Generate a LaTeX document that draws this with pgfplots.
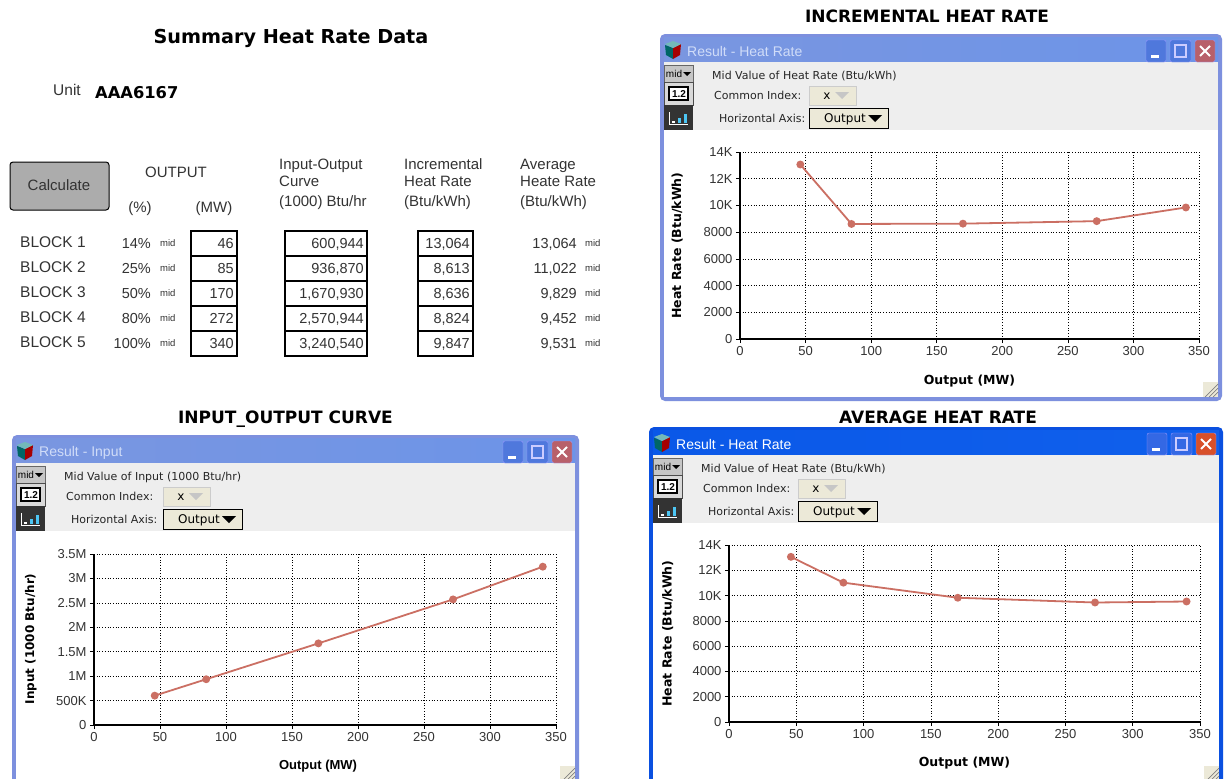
\documentclass[border=0pt]{standalone}
\usepackage{fontspec}
\setmainfont{Liberation Sans}
\newfontfamily\dv{DejaVu Sans}
\usepackage{pgfplots}
\usepackage{pgfplotstable}
\pgfplotsset{compat=1.18}

\definecolor{paneg}{HTML}{EEEEEE}
\definecolor{btnb}{HTML}{ECE9D8}
\definecolor{curve}{HTML}{CB6F63}
\definecolor{txt}{HTML}{333333}
% inactive window
\definecolor{offframe}{HTML}{7D90DE}
\definecolor{offA}{HTML}{7A96E0}
\definecolor{offB}{HTML}{6C94E8}
\definecolor{offtext}{HTML}{D0DCF8}
\definecolor{offbtn}{HTML}{4F78DC}
\definecolor{offclose}{HTML}{B8606A}
% active window
\definecolor{onframe}{HTML}{0A50E0}
\definecolor{onA}{HTML}{0A58E8}
\definecolor{onB}{HTML}{1060EC}
\definecolor{ontext}{HTML}{FFFFFF}
\definecolor{onbtn}{HTML}{3468E4}
\definecolor{onclose}{HTML}{D8502A}

\pgfplotstableread{
mw incr
46 13064
85 8613
170 8636
272 8824
340 9847
}\incrdata
\pgfplotstableread{
mw input
46 600944
85 936870
170 1670930
272 2570944
340 3240540
}\inputdata
\pgfplotstableread{
mw avg
46 13064
85 11022
170 9829
272 9452
340 9531
}\avgdata

\newcommand{\fs}[1]{\fontsize{#1}{#1}\selectfont}

% x, y, w, h, title, mid line, box offset, colour prefix, button shift
\newcommand{\resultwin}[9]{%
\begin{scope}[shift={(#1pt,-#2pt)},x=1pt,y=-1pt]
  \fill[#8frame,rounded corners=5pt] (0,0) rectangle (#3,#4);
  \shade[left color=#8A,right color=#8B] (4,3) rectangle (#3-4,28);
  \fill[white] (4,28) rectangle (#3-4,#4-4);
  \fill[paneg] (4,28) rectangle (#3-4,96);
  % logo
  \fill[teal!80!black] (5,11) -- (13,14) -- (13,25) -- (6,21) -- cycle;
  \fill[red!65!black] (13,14) -- (21,10) -- (20,21) -- (13,25) -- cycle;
  \fill[teal!55] (5,10) -- (13,7) -- (21,10) -- (13,14) -- cycle;
  \node[anchor=west,text=#8text,inner sep=0pt,font=\fs{14}] at (27,17.5) {#5};
  % window buttons
  \fill[#8btn,rounded corners=2pt,draw=white!60!blue] (#3-76+#9,6) rectangle (#3-56+#9,28);
  \fill[white] (#3-71+#9,21) rectangle (#3-63+#9,24);
  \fill[#8btn,rounded corners=2pt,draw=white!60!blue] (#3-52+#9,6) rectangle (#3-31+#9,28);
  \draw[white!80!blue,line width=1.2pt] (#3-47+#9,11) rectangle (#3-36+#9,23);
  \fill[#8close,rounded corners=2pt,draw=white!60!blue] (#3-27+#9,6) rectangle (#3-7+#9,28);
  \draw[white,line width=2pt] (#3-22+#9,12) -- (#3-12+#9,22) (#3-22+#9,22) -- (#3-12+#9,12);
  % side buttons
  \fill[gray!45,draw=black!60] (4,31) rectangle (33,48);
  \node[font=\fs{10},inner sep=0pt] at (14,40) {mid};
  \fill[black] (23,38) -- (31,38) -- (27,42) -- cycle;
  \fill[gray!30,draw=black!70,line width=1pt] (4,48) rectangle (33,71);
  \fill[white,draw=black,line width=1.2pt] (9,53) rectangle (28,66);
  \node[font=\bfseries\fs{10},inner sep=0pt] at (19,60) {1.2};
  \fill[black!80] (4,71) rectangle (33,96);
  \draw[white,line width=.8pt] (9,78) -- (9,90) -- (28,90);
  \fill[cyan!70] (24,80) rectangle (27,89);
  \fill[white] (12,87) rectangle (15,89);
  \fill[cyan!70] (18,84) rectangle (21,89);
  % control strip
  \node[anchor=west,font=\dv\fs{11},inner sep=0pt,text=black!85] at (52,42) {#6};
  \node[anchor=west,font=\dv\fs{11},inner sep=0pt,text=black!85] at (54,61) {Common Index:};
  \node[anchor=west,font=\dv\fs{11},inner sep=0pt,text=black!85] at (59,84) {Horizontal Axis:};
  \fill[btnb,draw=gray!40] (#7,52) rectangle (#7+47,71);
  \node[font=\dv\fs{12},inner sep=0pt] at (#7+18,62) {x};
  \fill[gray!45] (#7+26,58) -- (#7+40,58) -- (#7+33,65) -- cycle;
  \fill[btnb,draw=black,line width=1pt] (#7,74) rectangle (#7+79,94);
  \node[font=\dv\fs{12},inner sep=0pt] at (#7+36,85) {Output};
  \fill[black] (#7+59,81) -- (#7+73,81) -- (#7+66,88) -- cycle;
\end{scope}}

\newcommand{\grip}[2]{%
\begin{scope}[shift={(#1pt,-#2pt)},x=1pt,y=-1pt]
  \fill[btnb] (0,0) rectangle (15,15);
  \draw[gray,line width=.7pt] (15,2) -- (2,15) (15,6) -- (6,15) (15,10) -- (10,15);
\end{scope}}

\pgfplotsset{
  heat/.style={
    scale only axis, anchor=south west,
    axis x line=bottom, axis y line=left,
    axis line style={-,line width=1.5pt,black},
    tick style={black,line width=.7pt}, tick align=outside, major tick length=4pt,
    grid=major, grid style={black,line width=.7pt,dotted},
    xmin=0, xmax=350, ymin=0,
    xtick={0,50,...,350},
    scaled y ticks=false,
    /pgf/number format/assume math mode=true,
    /pgf/number format/1000 sep={},
    tick label style={font=\fs{13},text=txt},
    label style={font=\dv\bfseries\fs{12.5},text=black},
    clip=false,
  },
  heatline/.style={curve,line width=1.8pt,mark=*,mark size=3pt,mark options={fill=curve,draw=curve}},
}

\begin{document}
\begin{tikzpicture}
\clip (0,0) rectangle (1229pt,-779pt);
\fill[white] (0,0) rectangle (1229pt,-779pt);

\begin{scope}[x=1pt,y=-1pt,every node/.style={inner sep=0pt,text=txt}]
  \node[anchor=base,font=\dv\bfseries\fs{19.2},text=black] at (291,43) {Summary Heat Rate Data};
  \node[anchor=base west,font=\fs{15.5}] at (53,95) {Unit};
  \node[anchor=base west,font=\dv\bfseries\fs{16.3},text=black] at (95,98) {AAA6167};
  \node[anchor=base,font=\dv\bfseries\fs{17},text=black] at (927,23) {INCREMENTAL HEAT RATE};
  \node[anchor=base,font=\dv\bfseries\fs{17},text=black] at (285.5,423) {INPUT\_OUTPUT CURVE};
  \node[anchor=base,font=\dv\bfseries\fs{17},text=black] at (938,423) {AVERAGE HEAT RATE};

  \fill[gray!65,draw=black,line width=1pt,rounded corners=3pt] (10,162) rectangle (109,210);
  \node[anchor=base,font=\fs{15}] at (59,190) {Calculate};
  \node[anchor=base,font=\fs{15}] at (176,177) {OUTPUT};
  \node[anchor=base,font=\fs{15}] at (140,212) {(\%)};
  \node[anchor=base,font=\fs{15}] at (214,212) {(MW)};
  \foreach \t/\yy in {Input-Output/169,Curve/186,{(1000) Btu/hr}/206}
    \node[anchor=base west,font=\fs{15}] at (279,\yy) {\t};
  \foreach \t/\yy in {Incremental/169,Heat Rate/186,{(Btu/kWh)}/206}
    \node[anchor=base west,font=\fs{15}] at (404,\yy) {\t};
  \foreach \t/\yy in {Average/169,Heate Rate/186,{(Btu/kWh)}/206}
    \node[anchor=base west,font=\fs{15}] at (520,\yy) {\t};

  \foreach \yy/\b/\p/\mw/\io/\ih/\av in {
    243/1/14/46/{600,944}/{13,064}/{13,064},
    268/2/25/85/{936,870}/{8,613}/{11,022},
    293/3/50/170/{1,670,930}/{8,636}/{9,829},
    318/4/80/272/{2,570,944}/{8,824}/{9,452},
    343/5/100/340/{3,240,540}/{9,847}/{9,531}}{
    \draw[black,line width=1.2pt] (191,\yy-12) rectangle (237,\yy+13);
    \draw[black,line width=1.2pt] (285,\yy-12) rectangle (367,\yy+13);
    \draw[black,line width=1.2pt] (418,\yy-12) rectangle (473,\yy+13);
    \node[anchor=base west,font=\fs{15.5}] at (20,\yy+4) {BLOCK \b};
    \node[anchor=base east,font=\fs{14.5}] at (151,\yy+5) {\p\%};
    \node[anchor=base west,font=\fs{9.5}] at (160,\yy+3) {mid};
    \node[anchor=base east,font=\fs{14.5}] at (234,\yy+5) {\mw};
    \node[anchor=base east,font=\fs{14.5}] at (364,\yy+5) {\io};
    \node[anchor=base east,font=\fs{14.5}] at (470,\yy+5) {\ih};
    \node[anchor=base east,font=\fs{14.5}] at (577,\yy+5) {\av};
    \node[anchor=base west,font=\fs{9.5}] at (585,\yy+3) {mid};
  }
\end{scope}

\resultwin{660}{34}{562}{367}{Result - Heat Rate}{Mid Value of Heat Rate (Btu/kWh)}{149}{off}{0}
\grip{1203}{382}
\resultwin{12}{435}{567}{370}{Result - Input}{Mid Value of Input (1000 Btu/hr)}{151}{off}{0}
\grip{560}{766}
\resultwin{649}{427}{574}{370}{Result - Heat Rate}{Mid Value of Heat Rate (Btu/kWh)}{149}{on}{0}
\grip{1204}{766}

\begin{axis}[heat, at={(740pt,-339pt)}, width=459pt, height=187pt,
    ymax=14000, ytick={0,2000,...,14000},
    yticklabels={0,2000,4000,6000,8000,10K,12K,14K},
    xlabel={Output (MW)}, ylabel={Heat Rate (Btu/kWh)},
    xlabel style={at={(axis description cs:0.5,-0.224)},anchor=center},
    ylabel style={at={(axis description cs:-0.137,0.5)},anchor=center}]
  \addplot[heatline] table[x=mw,y=incr] {\incrdata};
\end{axis}

\begin{axis}[heat, at={(94pt,-725pt)}, width=462pt, height=171pt,
    ymax=3500000, ytick={0,500000,1000000,1500000,2000000,2500000,3000000,3500000},
    yticklabels={0,500K,1M,1.5M,2M,2.5M,3M,3.5M},
    xlabel={Output (MW)}, ylabel={Input (1000 Btu/hr)},
    xlabel style={at={(axis description cs:0.485,-0.24)},anchor=center,font=\bfseries\fs{13}},
    ylabel style={at={(axis description cs:-0.137,0.503)},anchor=center,font=\dv\bfseries\fs{12}}]
  \addplot[heatline] table[x=mw,y=input] {\inputdata};
\end{axis}

\begin{axis}[heat, at={(729pt,-722pt)}, width=471pt, height=177pt,
    ymax=14000, ytick={0,2000,...,14000},
    yticklabels={0,2000,4000,6000,8000,10K,12K,14K},
    xlabel={Output (MW)}, ylabel={Heat Rate (Btu/kWh)},
    xlabel style={at={(axis description cs:0.5,-0.23)},anchor=center},
    ylabel style={at={(axis description cs:-0.13,0.5)},anchor=center}]
  \addplot[heatline] table[x=mw,y=avg] {\avgdata};
\end{axis}
\end{tikzpicture}
\end{document}
